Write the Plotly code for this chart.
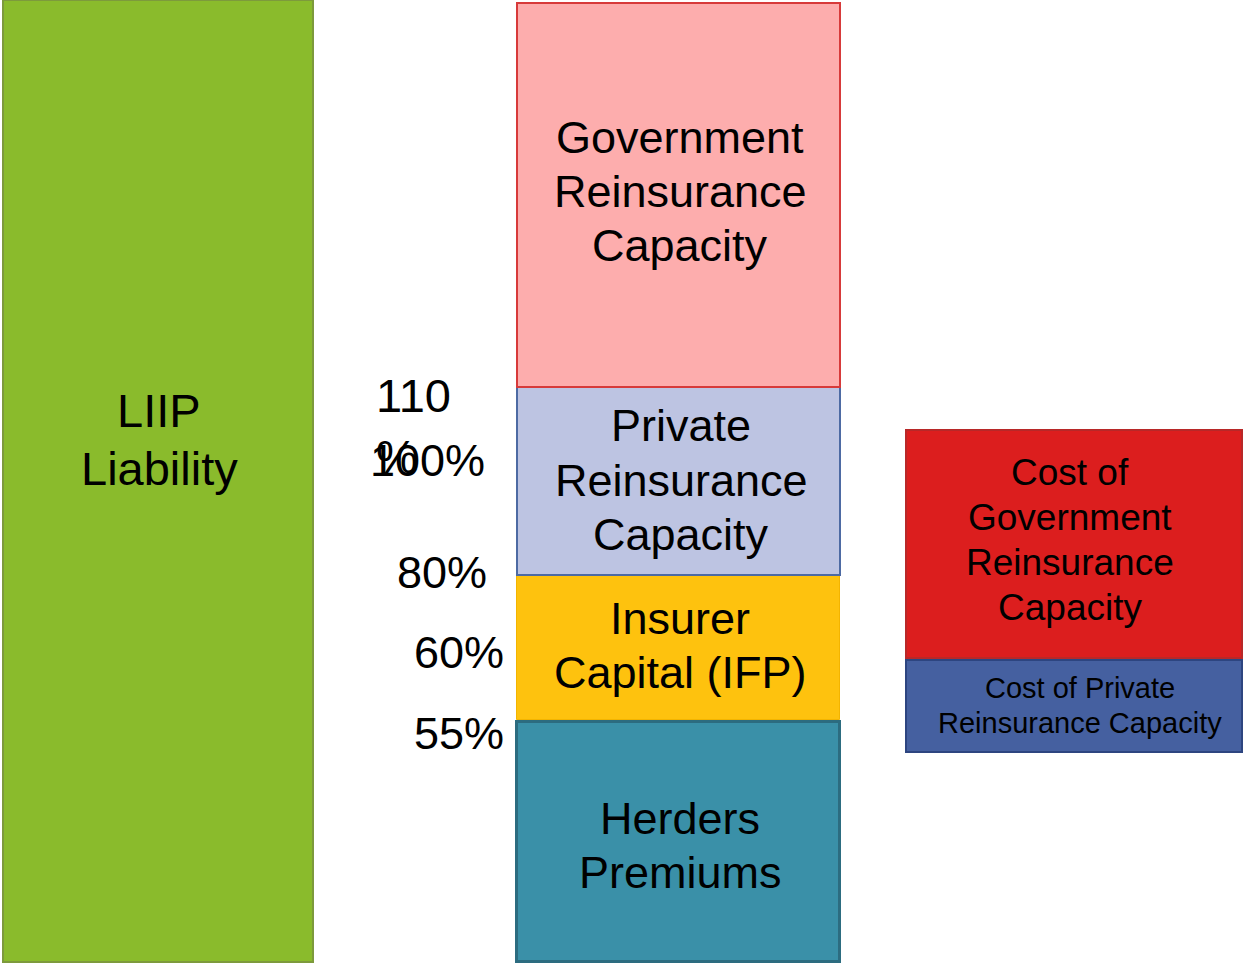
import plotly.graph_objects as go

# ---------------- data ----------------
blocks = [
    "LIIP Liability",
    "Herders Premiums",
    "Insurer Capital (IFP)",
    "Private Reinsurance Capacity",
    "Government Reinsurance Capacity",
    "Cost of Private Reinsurance Capacity",
    "Cost of Government Reinsurance Capacity",
]
block_base = [2, 2, 244, 389, 577, 212, 306]
block_height = [962, 240, 145, 188, 384, 92, 228]
block_lines = [
    ["LIIP", "Liability"],
    ["Herders", "Premiums"],
    ["Insurer", "Capital (IFP)"],
    ["Private", "Reinsurance", "Capacity"],
    ["Government", "Reinsurance", "Capacity"],
    ["Cost of Private", "Reinsurance Capacity"],
    ["Cost of", "Government", "Reinsurance", "Capacity"],
]
pct_labels = ["110 %", "100%", "80%", "60%", "55%"]

# ---------------- layout / style ----------------
col_center = [158, 678.5, 678.5, 678.5, 678.5, 1074, 1074]
col_width = [310, 323, 323, 323, 323, 336, 336]
fills = ["#8abb2c", "#3a90a8", "#fec20e", "#bdc4e2", "#fdadad", "#4560a0", "#dc1e1e"]
borders = ["#7d9a3c", "#2c6c80", "#f3b400", "#4d6aa3", "#d73a3a", "#2d4580", "#b82828"]
border_w = [2, 3, 1, 2, 2, 2, 2]
label_y = [525, 119, 319, 484, 773, 259, 424]
label_x = [159, 680, 680, 681, 680, 1080, 1070]
label_size = [47, 45, 45, 45, 45, 29, 37]
label_gap = [58, 54, 54, 54.5, 54, 35, 45]

pct_pos = [(374, 538, "left", 47), (487, 504, "right", 45), (489, 392, "right", 45),
           (506, 312, "right", 45), (506, 231, "right", 45)]
FONT = "Liberation Sans, Arial, sans-serif"

fig = go.Figure()
for i, name in enumerate(blocks):
    fig.add_trace(go.Bar(
        x=[col_center[i]], y=[block_height[i]], base=[block_base[i]],
        width=[col_width[i]], name=name,
        marker=dict(color=fills[i], line=dict(color=borders[i], width=border_w[i])),
        hoverinfo="name", showlegend=False,
    ))

annotations = []
for i, lines in enumerate(block_lines):
    n = len(lines)
    for k, line in enumerate(lines):
        yy = label_y[i] + (n - 1) / 2 * label_gap[i] - k * label_gap[i]
        annotations.append(dict(
            x=label_x[i], y=yy, text=line, showarrow=False,
            xanchor="center", yanchor="middle",
            font=dict(family=FONT, size=label_size[i], color="black"),
        ))

for lab, (px, py, anc, fs) in zip(pct_labels, pct_pos):
    annotations.append(dict(
        x=px, y=py, text=lab.replace(" ", "<br>"), showarrow=False,
        xanchor=anc, yanchor="middle", align="left",
        font=dict(family=FONT, size=fs, color="black"),
    ))

fig.update_layout(
    width=1243, height=964,
    margin=dict(l=0, r=0, t=0, b=0),
    paper_bgcolor="white", plot_bgcolor="white",
    barmode="overlay", bargap=0,
    xaxis=dict(range=[0, 1243], visible=False, fixedrange=True),
    yaxis=dict(range=[0, 964], visible=False, fixedrange=True),
    annotations=annotations,
    showlegend=False,
)

fig.write_html(
    "out.html",
    config={"displayModeBar": False},
    post_script="document.body.style.margin='0px';document.body.style.overflow='hidden';",
)
